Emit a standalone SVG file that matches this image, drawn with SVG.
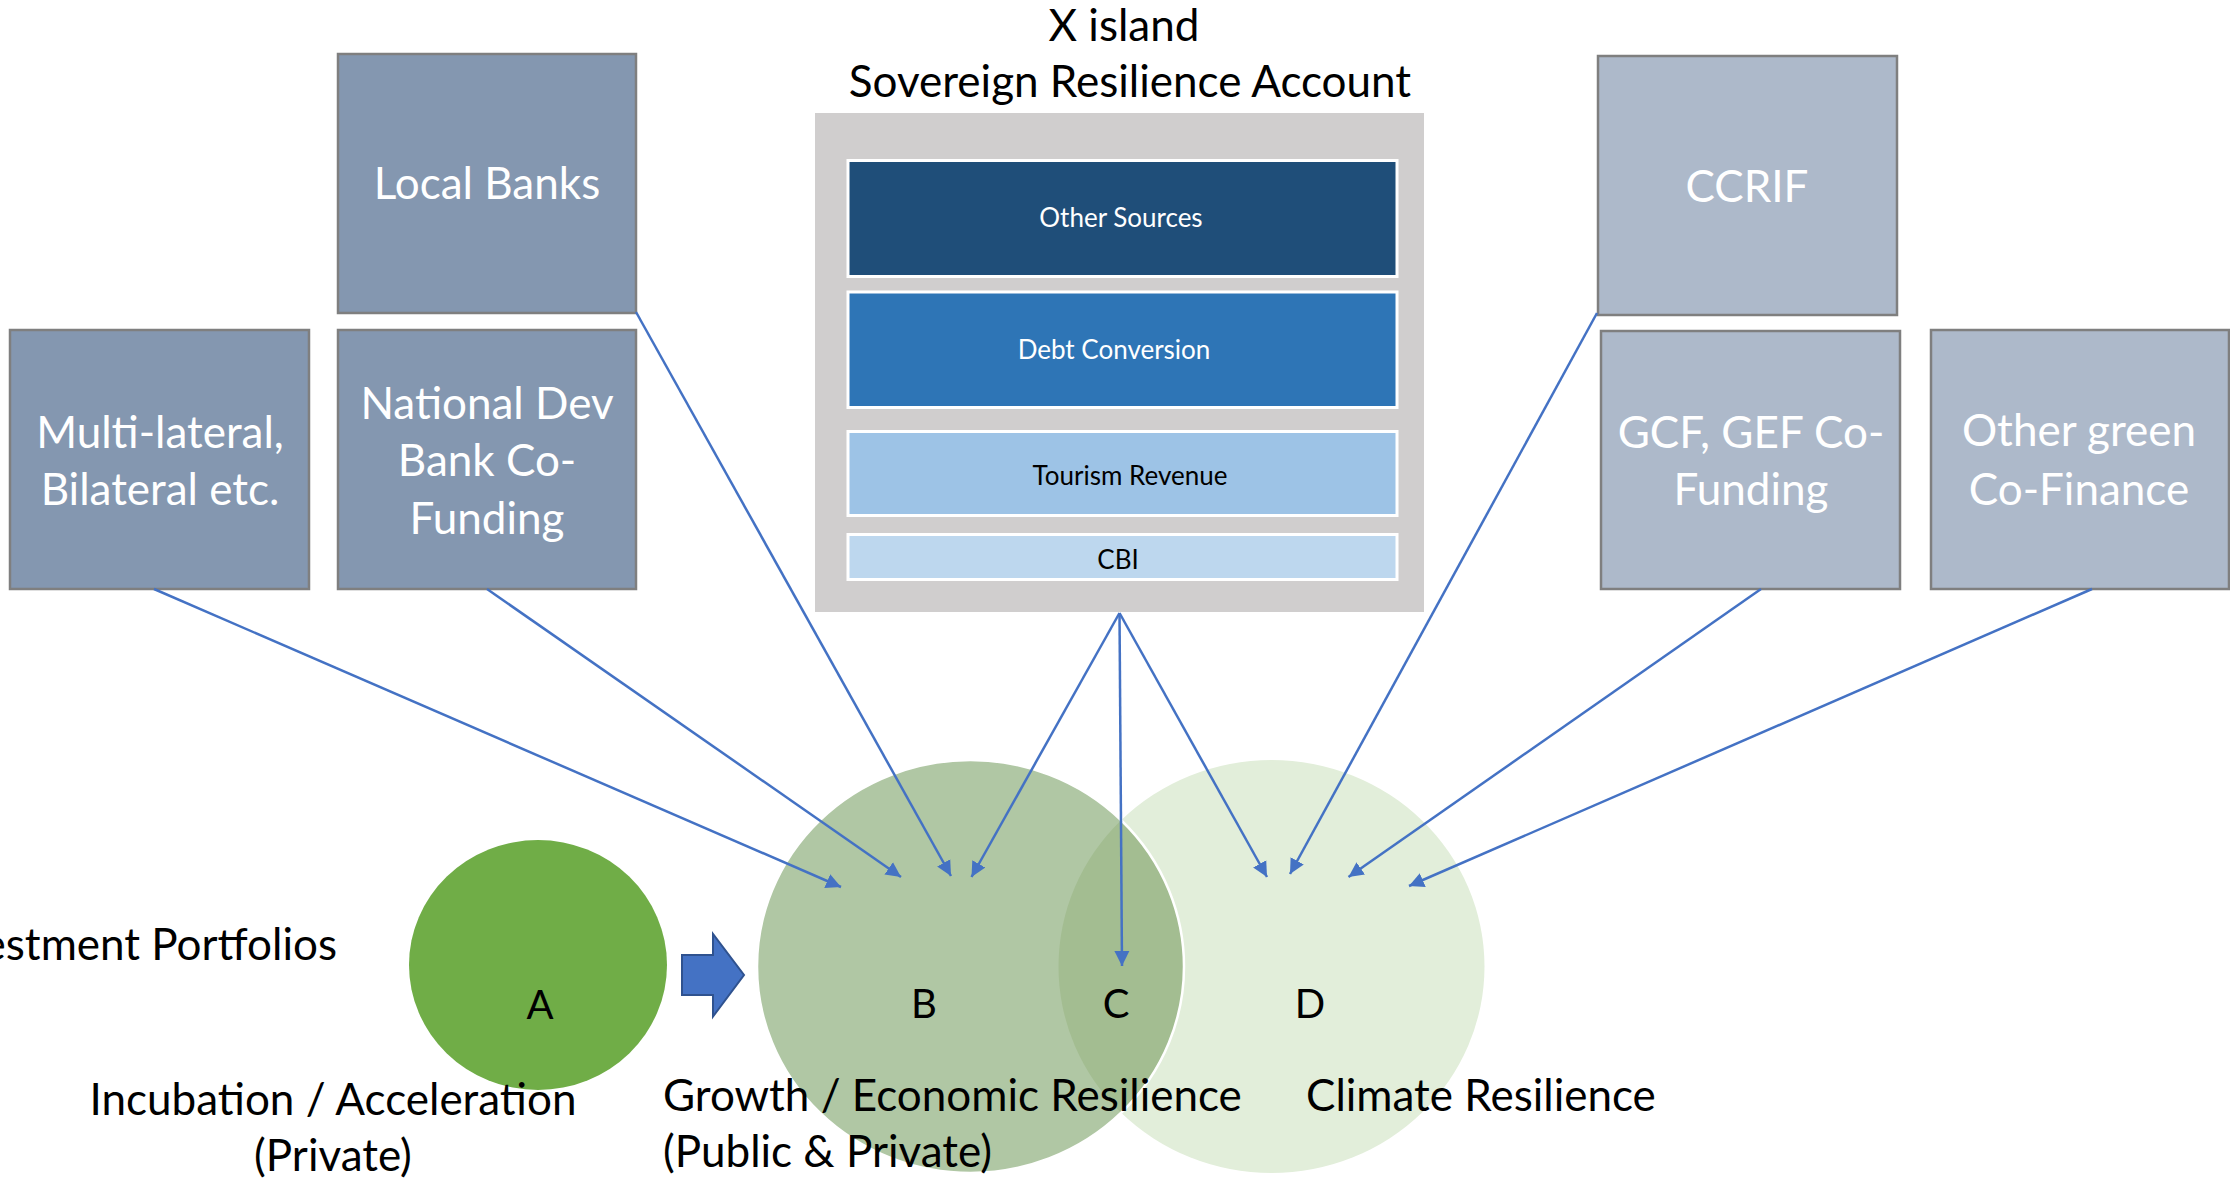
<svg xmlns="http://www.w3.org/2000/svg" width="2230" height="1182" viewBox="0 0 2230 1182">
  <defs>
    <style>
      text { font-family: Lato, "Open Sans", "Liberation Sans", sans-serif; }
      .src-dark { fill: #8497B0; stroke: #7F7F7F; stroke-width: 2.5; }
      .src-light { fill: #ADB9CA; stroke: #7F7F7F; stroke-width: 2.5; }
      .src-label { fill: #FFFFFF; font-size: 44px; text-anchor: middle; }
      .bar { stroke: #FFFFFF; stroke-width: 3; }
      .bar-label { font-size: 26px; text-anchor: middle; }
      .title { fill: #000000; font-size: 44px; text-anchor: middle; }
      .letter { fill: #000000; font-size: 40px; text-anchor: middle; }
      .caption { fill: #000000; font-size: 44px; }
      .link { fill: none; stroke: #4472C4; stroke-width: 2.5; marker-end: url(#tip); }
    </style>
    <marker id="tip" markerUnits="userSpaceOnUse" markerWidth="16" markerHeight="16" refX="15" refY="8" orient="auto">
      <path d="M0,0.5 L15,8 L0,15.5 Z" fill="#4472C4"/>
    </marker>
    <clipPath id="clipB">
      <ellipse cx="970.5" cy="966.5" rx="213.5" ry="206.5"/>
    </clipPath>
  </defs>

  <!-- Venn circles: growth (B) and climate (D), overlap C -->
  <g id="circle-d">
    <ellipse cx="1271.5" cy="966.5" rx="213" ry="206.5" fill="#E2EEDA"/>
  </g>
  <g id="circle-b">
    <ellipse cx="970.5" cy="966.5" rx="213.5" ry="206.5" fill="#B0C7A4"/>
  </g>
  <g id="overlap-c">
    <ellipse cx="1271.5" cy="966.5" rx="213" ry="206.5" fill="#A3BD91" clip-path="url(#clipB)"/>
    <ellipse cx="970.5" cy="966.5" rx="213.5" ry="206.5" fill="none" stroke="#FFFFFF" stroke-width="2.5"/>
  </g>

  <!-- Incubation circle A -->
  <g id="circle-a">
    <ellipse cx="538" cy="965" rx="129" ry="125" fill="#70AD47"/>
  </g>

  <!-- Block arrow A to B -->
  <g id="block-arrow">
    <path d="M682,955 L713,955 L713,934 L744,975 L713,1016.5 L713,995 L682,995 Z" fill="#4472C4" stroke="#2F528F" stroke-width="2"/>
  </g>

  <!-- Funding sources, left -->
  <g id="local-banks">
    <rect class="src-dark" x="338" y="54" width="298" height="259"/>
    <text class="src-label" x="487" y="199">Local Banks</text>
  </g>
  <g id="multilateral">
    <rect class="src-dark" x="10" y="330" width="299" height="259"/>
    <text class="src-label" x="160" y="448">Multi-lateral,</text>
    <text class="src-label" x="160" y="505">Bilateral etc.</text>
  </g>
  <g id="national-dev-bank">
    <rect class="src-dark" x="338" y="330" width="298" height="259"/>
    <text class="src-label" x="487" y="419">National Dev</text>
    <text class="src-label" x="487" y="476">Bank Co-</text>
    <text class="src-label" x="487" y="534">Funding</text>
  </g>

  <!-- Funding sources, right -->
  <g id="ccrif">
    <rect class="src-light" x="1598" y="56" width="299" height="259"/>
    <text class="src-label" x="1747" y="202">CCRIF</text>
  </g>
  <g id="gcf-gef">
    <rect class="src-light" x="1601" y="331" width="299" height="258"/>
    <text class="src-label" x="1751" y="448">GCF, GEF Co-</text>
    <text class="src-label" x="1751" y="505">Funding</text>
  </g>
  <g id="other-green">
    <rect class="src-light" x="1931" y="330" width="298" height="259"/>
    <text class="src-label" x="2079" y="446">Other green</text>
    <text class="src-label" x="2079" y="505">Co-Finance</text>
  </g>

  <!-- Sovereign resilience account -->
  <g id="resilience-account">
    <text class="title" x="1124" y="41">X island</text>
    <text class="title" x="1130" y="97">Sovereign Resilience Account</text>
    <rect x="815" y="113" width="609" height="499" fill="#D0CECE"/>
    <rect class="bar" x="848" y="160.5" width="549" height="116" fill="#1F4E79"/>
    <text class="bar-label" x="1121" y="227" fill="#FFFFFF">Other Sources</text>
    <rect class="bar" x="848" y="292" width="549" height="115.5" fill="#2E75B6"/>
    <text class="bar-label" x="1114" y="359" fill="#FFFFFF">Debt Conversion</text>
    <rect class="bar" x="848" y="431.5" width="549" height="84" fill="#9DC3E6"/>
    <text class="bar-label" x="1130" y="485" fill="#000000">Tourism Revenue</text>
    <rect class="bar" x="848" y="534.5" width="549" height="45" fill="#BDD7EE"/>
    <text class="bar-label" x="1118" y="569" fill="#000000">CBI</text>
  </g>

  <!-- Connectors -->
  <g id="connectors">
    <line class="link" x1="154" y1="589" x2="841" y2="887"/>
    <line class="link" x1="487" y1="589" x2="901" y2="877"/>
    <line class="link" x1="636" y1="312" x2="951" y2="876"/>
    <line class="link" x1="1119.5" y1="613" x2="971.5" y2="877"/>
    <line class="link" x1="1119.5" y1="613" x2="1122" y2="966"/>
    <line class="link" x1="1119.5" y1="613" x2="1267" y2="877"/>
    <line class="link" x1="1597" y1="313" x2="1290" y2="874"/>
    <line class="link" x1="1761" y1="589" x2="1348.5" y2="877"/>
    <line class="link" x1="2092" y1="589" x2="1409" y2="886"/>
  </g>

  <!-- Portfolio letters -->
  <g id="letters">
    <text class="letter" x="540" y="1019">A</text>
    <text class="letter" x="924" y="1018">B</text>
    <text class="letter" x="1116" y="1018">C</text>
    <text class="letter" x="1310" y="1018">D</text>
  </g>

  <!-- Captions -->
  <g id="captions">
    <text class="caption" x="337" y="960" text-anchor="end">Investment Portfolios</text>
    <text class="caption" x="333" y="1115" text-anchor="middle">Incubation / Acceleration</text>
    <text class="caption" x="333" y="1171" text-anchor="middle">(Private)</text>
    <text class="caption" x="663" y="1111">Growth / Economic Resilience</text>
    <text class="caption" x="663" y="1167">(Public &amp; Private)</text>
    <text class="caption" x="1306" y="1111">Climate Resilience</text>
  </g>
</svg>
